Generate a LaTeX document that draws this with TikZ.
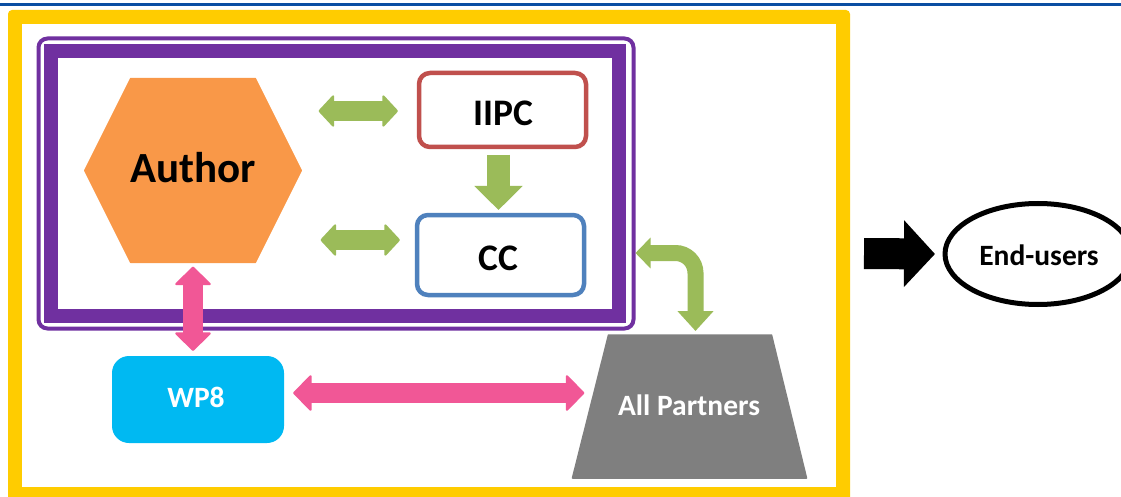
\documentclass[tikz,border=0pt]{standalone}
\usepackage{fontspec}
\setmainfont{Carlito}
\usetikzlibrary{arrows.meta,calc,shapes.geometric}
\definecolor{yel}{HTML}{FFCC00}
\definecolor{pur}{HTML}{7030A0}
\definecolor{org}{HTML}{F99848}
\definecolor{grn}{HTML}{9BBB59}
\definecolor{pnk}{HTML}{F15796}
\definecolor{red1}{HTML}{C0504D}
\definecolor{blu1}{HTML}{4F81BD}
\definecolor{cya}{HTML}{00B9F2}
\definecolor{gry}{HTML}{7F7F7F}
\definecolor{topb}{HTML}{0B4EA2}
\tikzset{
 box/.style={rectangle,inner sep=0pt,outer sep=0pt,font=\bfseries},
 linebox/.style={box,draw,line width=4.5pt,rounded corners=11pt,fill=white},
 bigtext/.style={font=\bfseries\fontsize{37.5}{37.5}\selectfont,inner sep=0pt},
 smalltext/.style={font=\bfseries\fontsize{29.5}{29.5}\selectfont,inner sep=0pt},
 greenarrow/.style={draw=grn,line width=20pt,{Triangle[width=34pt,length=16pt,round,line width=2pt]}-{Triangle[width=34pt,length=16pt,round,line width=2pt]},shorten >=1pt,shorten <=1pt},
 pinkarrow/.style={draw=pnk,line width=20pt,{Triangle[width=38pt,length=19pt,round,line width=2pt]}-{Triangle[width=38pt,length=19pt,round,line width=2pt]},shorten >=1pt,shorten <=1pt},
}
\begin{document}
\begin{tikzpicture}[x=1pt,y=-1pt]
\useasboundingbox (0,0) rectangle (1121,497);
\fill[white] (0,0) rectangle (1121,497);
\fill[topb] (0,2.8) rectangle (1121,6);
% yellow frame
\fill[yel,rounded corners=4pt] (8,10) rectangle (850,503);
\fill[white] (22,24) rectangle (836,487);
\fill[white] (0,497) rectangle (1121,504);
% purple frames
\node[box,draw=pur,line width=4pt,rounded corners=9pt,minimum width=595pt,minimum height=290pt] (outerp) at (336,183.5) {};
\node[box,draw=pur,line width=14pt,minimum width=568pt,minimum height=265pt] (innerp) at (335,183.5) {};
% hexagon
\node[box,minimum width=217pt,minimum height=184pt] (author) at (193,170.5) {};
\fill[org,draw=org,line width=1pt,line join=round]
  ([xshift=46pt]author.north west) -- ([xshift=-46pt]author.north east) -- (author.east)
  -- ([xshift=-46pt]author.south east) -- ([xshift=46pt]author.south west) -- (author.west) -- cycle;
\node[font=\bfseries\fontsize{43}{43}\selectfont,inner sep=0pt] (authort) at (193,168) {Author};
% boxes
\node[linebox,draw=red1,minimum width=167pt,minimum height=74pt] (iipc) at (502.5,110) {};
\node[bigtext] (iipct) at (503,113) {IIPC};
\node[linebox,draw=blu1,minimum width=167pt,minimum height=80pt] (cc) at (500.5,255) {};
\node[bigtext] (cct) at (498.5,258) {CC};
\node[box,fill=cya,rounded corners=17pt,minimum width=172pt,minimum height=87pt] (wp) at (198,399.5) {};
\node[smalltext,text=white] (wpt) at (196,397) {WP8};
% trapezoid
\node[box,minimum width=234pt,minimum height=143pt] (all) at (689.5,406.5) {};
\fill[gry,draw=gry,line width=1.5pt,line join=round]
  ([xshift=36pt]all.north west) -- ([xshift=-35pt]all.north east) -- (all.south east) -- (all.south west) -- cycle;
\node[smalltext,text=white] (allt) at (689,405) {All Partners};
% end-users
\node[ellipse,draw=black,line width=5pt,fill=white,minimum width=186pt,minimum height=101pt,inner sep=0pt,outer sep=0pt] (end) at (1038,254) {};
\node[smalltext] (endt) at (1039,255) {End-users};
% connectors
\coordinate (a1) at ([xshift=16pt]author.east |- iipc.west);
\coordinate (a2) at ([xshift=-20pt]iipc.west);
\draw[greenarrow] ($(a1)+(0,1)$) -- ($(a2)+(0,1)$);
\coordinate (b1) at ([xshift=18pt]author.east |- cc.west);
\coordinate (b2) at ([xshift=-16pt]cc.west);
\draw[greenarrow] ($(b1)+(0,-15)$) -- ($(b2)+(0,-15)$);
\draw[draw=grn,line width=23pt,-{Triangle[width=47pt,length=24pt]}] ($(iipc.south)+(-4,8)$) -- ($(cc.north)+(-2,-5)$);
\draw[pinkarrow] ([yshift=-3pt]author.south) -- ([yshift=4pt]wp.north -| author.south);
\coordinate (p1) at ($(wp.east)+(8,-6.5)$);
\coordinate (p2) at ($(all.west)+(13,-13.5)$);
\draw[pinkarrow] (p1) -- (p2);
\coordinate (g1) at (outerp.east |- 0,253);
\coordinate (g2) at (695.5,331);
\draw[draw=grn,line width=16pt,rounded corners=20pt,{Triangle[width=30pt,length=15pt]}-{Triangle[width=35pt,length=20pt]}] ([xshift=2pt]g1) -| (g2);
\coordinate (k1) at (864,253.5);
\draw[draw=black,line width=31pt,-{Triangle[width=65pt,length=31pt]}] (k1) -- ([xshift=-10pt]end.west);
\end{tikzpicture}
\end{document}
